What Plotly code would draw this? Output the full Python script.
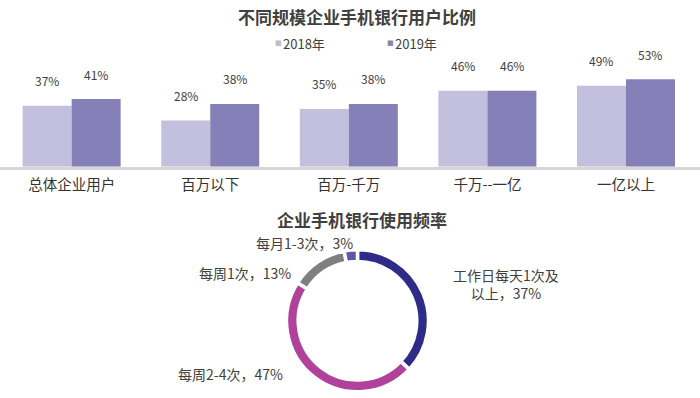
import plotly.graph_objects as go

categories = ["总体企业用户", "百万以下", "百万-千万", "千万--一亿", "一亿以上"]
series_names = ["2018年", "2019年"]
values_2018 = [37, 28, 35, 46, 49]
values_2019 = [41, 38, 38, 46, 53]

freq_labels = ["工作日每天1次及<br>以上", "每周2-4次", "每周1次", "每月1-3次"]
freq_values = [37, 47, 13, 3]

FONT = "Noto Sans CJK SC"
TXT = "#404040"
bar_colors = ["#c3c0dd", "#8580b7"]
legend_sq_colors = ["#bdbccf", "#8a87a8"]
pie_colors = ["#2f2b88", "#b1429b", "#7f7f7f", "#5f57aa"]

fig = go.Figure()
for name, vals, col in zip(series_names, [values_2018, values_2019], bar_colors):
    fig.add_trace(go.Bar(x=categories, y=vals, name=name, marker_color=col,
                         marker_line_width=0, xaxis="x", yaxis="y",
                         hoverinfo="skip", showlegend=False))

# value labels above bars
for vals, shift in [(values_2018, -24.5), (values_2019, 24.5)]:
    for c, v in zip(categories, vals):
        fig.add_annotation(x=c, y=v, xref="x", yref="y", xshift=shift, yshift=25,
                           text=f"{v}%", showarrow=False, yanchor="middle",
                           font=dict(family=FONT, size=12, color=TXT))

# legend (small squares + text)
for name, col, sx in zip(series_names, legend_sq_colors, [278.3, 390.7]):
    fig.add_annotation(x=sx / 700, y=0.892, xref="paper", yref="paper", text="■",
                       showarrow=False, xanchor="center", yanchor="middle",
                       font=dict(family="DejaVu Sans", size=7, color=col))
    fig.add_annotation(x=(sx + 4.5) / 700, y=0.891, xref="paper", yref="paper", text=name,
                       showarrow=False, xanchor="left", yanchor="middle", xshift=-2,
                       font=dict(family=FONT, size=13, color=TXT))

fig.add_trace(go.Pie(values=freq_values, labels=freq_labels, hole=0.835, sort=False,
                     direction="clockwise", rotation=0, textinfo="none",
                     hoverinfo="skip",
                     marker=dict(colors=pie_colors, line=dict(color="white", width=3.5)),
                     domain=dict(x=[0.4093, 0.6121], y=[0.0156, 0.3724]), showlegend=False))

pie_label_pos = [(0.723, 0.286, "center"), (0.407, 0.0603, "right"),
                 (0.419, 0.3148, "right"), (0.507, 0.3902, "right")]
for lab, v, (px, py, anc) in zip(freq_labels, freq_values, pie_label_pos):
    fig.add_annotation(x=px, y=py, xref="paper", yref="paper", text=f"{lab}，{v}%",
                       showarrow=False, xanchor=anc, yanchor="middle", align="center",
                       font=dict(family=FONT, size=14, color=TXT))

fig.add_annotation(x=0.5107, y=0.958, xref="paper", yref="paper",
                   text="<b>不同规模企业手机银行用户比例</b>",
                   showarrow=False, yanchor="middle", font=dict(family=FONT, size=17, color=TXT))
fig.add_annotation(x=0.517, y=0.4497, xref="paper", yref="paper",
                   text="<b>企业手机银行使用频率</b>",
                   showarrow=False, yanchor="middle", font=dict(family=FONT, size=17, color=TXT))

fig.update_layout(
    width=700, height=398, margin=dict(l=0, r=0, t=0, b=0),
    paper_bgcolor="white", plot_bgcolor="white",
    barmode="group", bargap=0.293, bargroupgap=0,
    xaxis=dict(domain=[0, 1], range=[-0.517, 4.534], showline=True, linecolor="#d6d6d6",
               linewidth=2.5, ticks="", ticklabelstandoff=3,
               tickfont=dict(family=FONT, size=14.5, color="#333333"),
               anchor="y", fixedrange=True),
    yaxis=dict(domain=[0.5812, 0.85], range=[0, 64.85], visible=False, fixedrange=True),
    showlegend=False,
    font=dict(family=FONT),
)

fig.write_html("out.html", config={"displayModeBar": False},
               post_script="document.body.style.margin='0px';")
